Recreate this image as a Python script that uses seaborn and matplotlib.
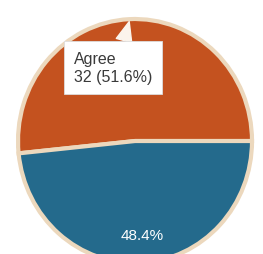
import numpy as np
import matplotlib
matplotlib.use("Agg")
import matplotlib.pyplot as plt
import seaborn as sns

# data
labels = ["Agree", "Disagree"]
counts = [32, 30]
colors = ["#c4521f", "#246a8c"]

sns.set_style("white")
plt.rcParams["font.family"] = ["Liberation Sans", "DejaVu Sans"]

total = sum(counts)
pct = [c / total * 100 for c in counts]

fig = plt.figure(figsize=(2.63, 2.55), dpi=100)
ax = fig.add_axes([0, 0, 1, 1])

wedges, _ = ax.pie(counts, colors=colors, startangle=0, counterclock=True,
                   wedgeprops=dict(edgecolor="#ecd8bd", linewidth=3))

# percentage label only on the second slice
w = wedges[1]
mid = np.deg2rad((w.theta1 + w.theta2) / 2)
ax.text(0.77 * np.cos(mid) + 0.02, 0.77 * np.sin(mid), f"{pct[1]:.1f}%",
        ha="center", va="center", color="white", fontsize=11)

# tooltip for first slice
w = wedges[0]
mid = np.deg2rad((w.theta1 + w.theta2) / 2)
tip = (0.98 * np.cos(mid), 0.98 * np.sin(mid))
ax.annotate(f"{labels[0]}\n{counts[0]} ({pct[0]:.1f}%)", xy=tip,
            xytext=(-0.52, 0.74), ha="left", va="top",
            fontsize=11.5, color="#3a3a3a", linespacing=1.3,
            bbox=dict(boxstyle="square,pad=0.62", fc="white", ec="#dddddd", lw=0.6),
            arrowprops=dict(arrowstyle="wedge,tail_width=1.0", fc="#fbf4ec", ec="#fbf4ec",
                            relpos=(0.6, 1.0), shrinkA=0, shrinkB=0))

ax.set_aspect("auto")
ax.set_xlim(-1.154, 1.094)
ax.set_ylim(-0.926, 1.164)
ax.axis("off")

fig.savefig("out.png", dpi=100, facecolor="white")
